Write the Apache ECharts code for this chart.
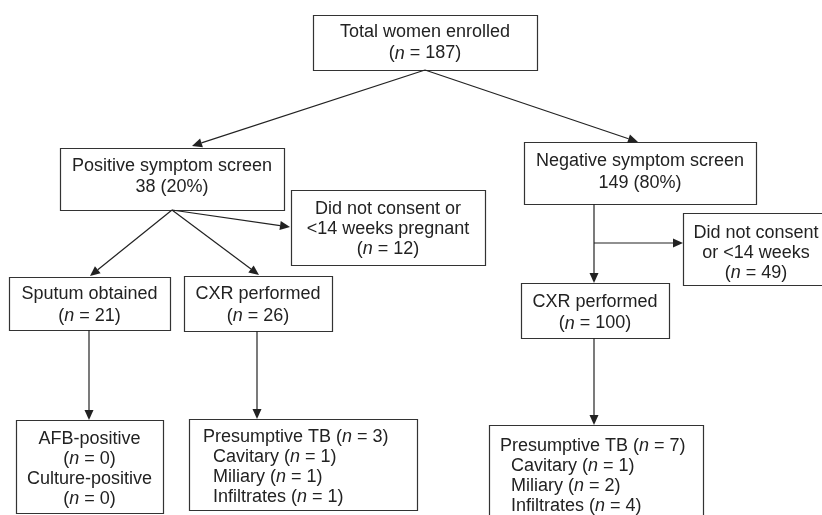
<!DOCTYPE html>
<html>
<head>
<meta charset="utf-8">
<script src="https://cdn.jsdelivr.net/npm/echarts@6/dist/echarts.min.js"></script>
<style>
  html, body { margin: 0; padding: 0; background: #fff; }
  #chart { width: 822px; height: 515px; }
</style>
</head>
<body>
<div id="chart"></div>
<script>
  // flow counts
  var enrolled = 187
  var screenNames = ['Positive symptom screen', 'Negative symptom screen']
  var screenCounts = [38, 149]
  var excludedLines = [['Did not consent or', '<14 weeks pregnant'], ['Did not consent', 'or <14 weeks']]
  var excludedCounts = [12, 49]
  var testNames = ['Sputum obtained', 'CXR performed', 'CXR performed']
  var testCounts = [21, 26, 100]
  var smearNames = ['AFB-positive', 'Culture-positive']
  var smearCounts = [0, 0]
  var tbTypes = ['Cavitary', 'Miliary', 'Infiltrates']
  var tbCountsPositive = [1, 1, 1]
  var tbCountsNegative = [1, 2, 4]

  function nText (v) { return '({i|n} = ' + v + ')' }
  function pct (v) { return v + ' (' + Math.round(v / enrolled * 100) + '%)' }
  function sum (arr) { return arr.reduce(function (a, b) { return a + b }, 0) }
  function tbLines (counts) {
    var lines = ['Presumptive TB ' + nText(sum(counts))]
    tbTypes.forEach(function (t, i) { lines.push(t + ' ' + nText(counts[i])) })
    return lines
  }

  var boxTexts = [
    ['Total women enrolled', nText(enrolled)],
    [screenNames[0], pct(screenCounts[0])],
    [screenNames[1], pct(screenCounts[1])],
    excludedLines[0].concat([nText(excludedCounts[0])]),
    excludedLines[1].concat([nText(excludedCounts[1])]),
    [testNames[0], nText(testCounts[0])],
    [testNames[1], nText(testCounts[1])],
    [testNames[2], nText(testCounts[2])],
    [smearNames[0], nText(smearCounts[0]), smearNames[1], nText(smearCounts[1])],
    tbLines(tbCountsPositive),
    tbLines(tbCountsNegative)
  ]

  // box geometry in page units: [x0, y0, x1, y1], text anchor x / mid y, line height, indent
  var boxLayout = [
    { r: [313, 15, 537, 70], tx: 425, ty: 43, lh: 21 },
    { r: [60, 148, 284, 210], tx: 172, ty: 177, lh: 21 },
    { r: [524, 142, 756, 204], tx: 640, ty: 172, lh: 22 },
    { r: [291, 190, 485, 265], tx: 388, ty: 229, lh: 20 },
    { r: [683, 213, 830, 285], tx: 756, ty: 253, lh: 20 },
    { r: [9, 277, 170, 330], tx: 89.5, ty: 305, lh: 22 },
    { r: [184, 276, 332, 331], tx: 258, ty: 305, lh: 22 },
    { r: [521, 283, 669, 338], tx: 595, ty: 313, lh: 21 },
    { r: [16, 420, 163, 513], tx: 89.5, ty: 469, lh: 20 },
    { r: [189, 419, 417, 510], tx: 203, ty: 467, lh: 19.7, left: true, indent: 10 },
    { r: [489, 425, 703, 530], tx: 500, ty: 476, lh: 20, left: true, indent: 11 }
  ]

  // arrows: [fromX, fromY, toX, toY]
  var arrowPaths = [
    [425, 70, 192, 146],
    [425, 70, 638, 142],
    [172, 210, 290, 227],
    [172, 210, 90, 276],
    [172, 210, 259, 275],
    [89, 330, 89, 420],
    [257, 331, 257, 419],
    [594, 204, 594, 283],
    [594, 243, 683, 243],
    [594, 338, 594, 425]
  ]

  var font = '"Liberation Sans", Arial, sans-serif'
  var ink = '#222'

  var chart = echarts.init(document.getElementById('chart'))
  var option = {
    animation: false,
    grid: { left: 0, right: 0, top: 0, bottom: 0 },
    xAxis: { type: 'value', min: 0, max: 822, show: false },
    yAxis: { type: 'value', min: 0, max: 515, inverse: true, show: false },
    series: [
      {
        type: 'custom',
        silent: true,
        clip: false,
        data: boxLayout.map(function (b, i) { return [b.tx, b.ty, i] }),
        renderItem: function (params, api) {
          var b = boxLayout[params.dataIndex]
          var lines = boxTexts[params.dataIndex]
          var p0 = api.coord([b.r[0], b.r[1]])
          var p1 = api.coord([b.r[2], b.r[3]])
          var children = [{
            type: 'rect',
            shape: {
              x: Math.round(p0[0]) + 0.5, y: Math.round(p0[1]) + 0.5,
              width: Math.round(p1[0] - p0[0]), height: Math.round(p1[1] - p0[1])
            },
            style: { fill: '#fff', stroke: '#333', lineWidth: 1.2 }
          }]
          var n = lines.length
          lines.forEach(function (line, k) {
            var pos = api.coord([b.tx + (b.left && k > 0 ? b.indent : 0), b.ty - (n - 1) * b.lh / 2 + k * b.lh])
            children.push({
              type: 'text',
              x: pos[0], y: pos[1],
              style: {
                text: line,
                fill: ink,
                font: '18px ' + font,
                align: b.left ? 'left' : 'center',
                verticalAlign: 'middle',
                rich: { i: { fontStyle: 'italic', fontSize: 18, fontFamily: font, fill: ink } }
              }
            })
          })
          return { type: 'group', children: children }
        }
      },
      {
        type: 'custom',
        silent: true,
        clip: false,
        data: arrowPaths,
        renderItem: function (params, api) {
          var a = arrowPaths[params.dataIndex]
          var s = api.coord([a[0], a[1]])
          var e = api.coord([a[2], a[3]])
          var dx = e[0] - s[0], dy = e[1] - s[1]
          var len = Math.sqrt(dx * dx + dy * dy)
          var ux = dx / len, uy = dy / len
          var headL = 10, headW = 4.5
          var bx = e[0] - ux * headL, by = e[1] - uy * headL
          return {
            type: 'group',
            children: [
              {
                type: 'line',
                shape: { x1: s[0], y1: s[1], x2: bx, y2: by },
                style: { stroke: '#222', lineWidth: 1.2 }
              },
              {
                type: 'polygon',
                shape: { points: [[e[0], e[1]], [bx - uy * headW, by + ux * headW], [bx + uy * headW, by - ux * headW]] },
                style: { fill: '#222' }
              }
            ]
          }
        }
      }
    ]
  }
  chart.setOption(option)
  window.addEventListener('resize', chart.resize)
</script>
</body>
</html>
